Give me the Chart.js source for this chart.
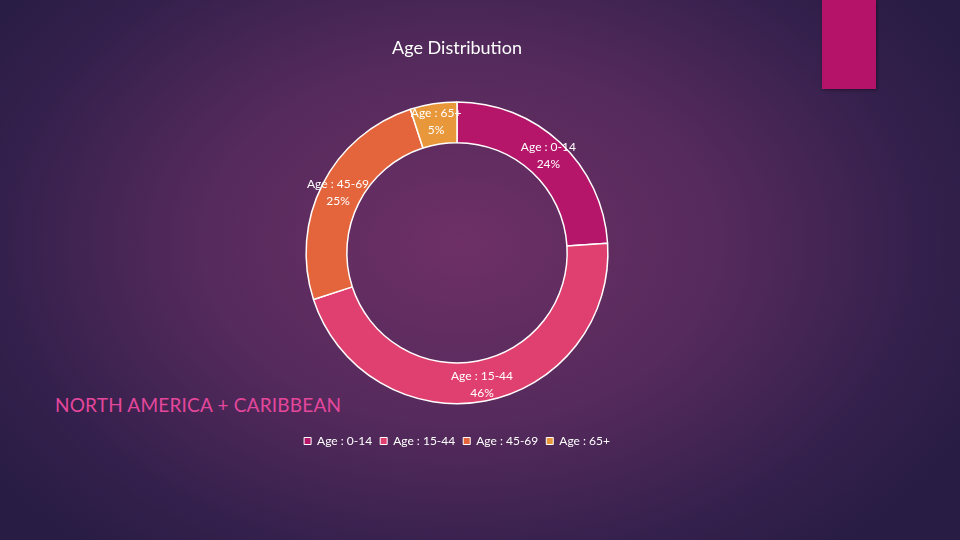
<!DOCTYPE html>
<html>
<head>
<meta charset="utf-8">
<script src="https://cdn.jsdelivr.net/npm/chart.js@4/dist/chart.umd.min.js"></script>
<style>
  html, body { margin:0; padding:0; }
  body {
    width:960px; height:540px; overflow:hidden; position:relative;
    background: radial-gradient(ellipse 60% 75% at 48% 45%, #6e3066 0%, #552a5c 45%, #34204c 80%, #281c44 100%);
    font-family: Lato, "Noto Sans", sans-serif;
  }
  #tab { position:absolute; left:822px; top:0; width:54px; height:89px; background:#b5136a; box-shadow:1px 1px 3px rgba(0,0,0,0.4); }
  #region { position:absolute; left:55px; top:393px; color:#e4479c; font-size:19px; letter-spacing:0.2px; }
  #wrap { position:absolute; left:0; top:0; width:960px; height:540px; }
</style>
</head>
<body>
<div id="tab"></div>
<div id="region">NORTH AMERICA + CARIBBEAN</div>
<div id="wrap"><canvas id="chart"></canvas></div>
<script>
const labels = ['Age : 0-14', 'Age : 15-44', 'Age : 45-69', 'Age : 65+'];
const values = [24, 46, 25, 5];
const colors = ['#b5166a', '#e0406f', '#e4653c', '#e8983a'];

const sliceLabels = {
  id: 'sliceLabels',
  afterDatasetsDraw(chart) {
    const ctx = chart.ctx;
    const meta = chart.getDatasetMeta(0);
    ctx.save();
    ctx.fillStyle = '#ffffff';
    ctx.font = '12px Lato, "Noto Sans", sans-serif';
    ctx.textAlign = 'center';
    ctx.textBaseline = 'middle';
    meta.data.forEach((arc, i) => {
      const p = arc.getProps(['x','y','startAngle','endAngle','innerRadius','outerRadius'], true);
      const a = (p.startAngle + p.endAngle) / 2;
      const r = (p.innerRadius + p.outerRadius) / 2 + 3;
      const x = p.x + Math.cos(a) * r, y = p.y + Math.sin(a) * r;
      ctx.fillText(labels[i], x, y - 8);
      ctx.fillText(values[i] + '%', x, y + 9);
    });
    ctx.restore();
  }
};

new Chart(document.getElementById('chart'), {
  type: 'doughnut',
  data: { labels, datasets: [{ data: values, backgroundColor: colors, borderColor: '#ffffff', borderWidth: 1.5 }] },
  options: {
    responsive: true, maintainAspectRatio: false, animation: false,
    cutout: '73%',
    radius: '87%',
    layout: { padding: { top: 0, bottom: 83, left: 0, right: 46 } },
    plugins: {
      title: { display: true, text: 'Age Distribution', color: '#ffffff',
        font: { size: 18, family: 'Lato, "Noto Sans", sans-serif', weight: 'normal' },
        padding: { top: 37, bottom: 20 } },
      legend: { position: 'bottom',
        labels: { color: '#ffffff', boxWidth: 7, boxHeight: 7, padding: 8,
          font: { size: 12, family: 'Lato, "Noto Sans", sans-serif' },
          generateLabels: (chart) => labels.map((l, i) => ({ text: l, fillStyle: colors[i], strokeStyle: '#ffffff', lineWidth: 1, fontColor: '#ffffff', index: i })) } },
      tooltip: { enabled: false }
    }
  },
  plugins: [sliceLabels]
});
</script>
</body>
</html>
